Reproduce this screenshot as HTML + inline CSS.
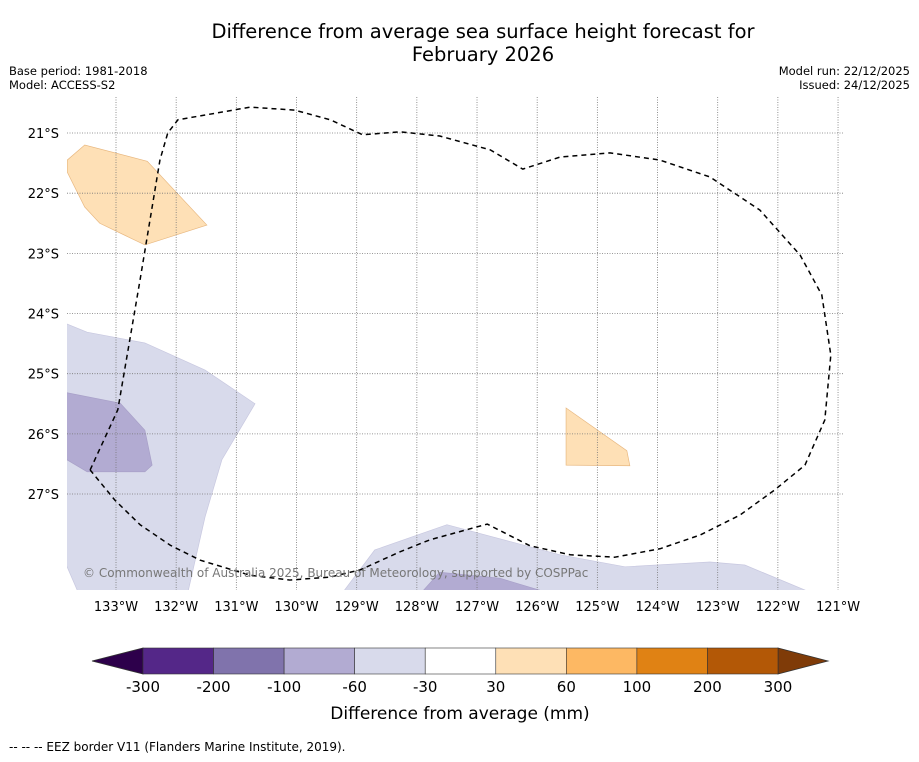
<!DOCTYPE html>
<html><head><meta charset="utf-8"><style>
body{margin:0;background:#fff;font-family:"DejaVu Sans","Liberation Sans",sans-serif}
svg text{font-family:"DejaVu Sans","Liberation Sans",sans-serif}
</style></head><body>
<svg id="c" width="919" height="758" xmlns="http://www.w3.org/2000/svg">
<rect width="919" height="758" fill="#fff"/>
<text x="483" y="38" text-anchor="middle" font-size="19.5">Difference from average sea surface height forecast for</text>
<text x="483" y="61" text-anchor="middle" font-size="19.5">February 2026</text>
<text x="9" y="75" font-size="11.5">Base period: 1981-2018</text>
<text x="9" y="89" font-size="11.5">Model: ACCESS-S2</text>
<text x="910" y="75" font-size="11.5" text-anchor="end">Model run: 22/12/2025</text>
<text x="910" y="89" font-size="11.5" text-anchor="end">Issued: 24/12/2025</text>
<defs><clipPath id="mapclip"><rect x="67" y="97" width="776" height="493"/></clipPath></defs>
<g id="fills" clip-path="url(#mapclip)"></g>
<g id="grid"></g>
<g id="eez" clip-path="url(#mapclip)"></g>
<g id="cbar"></g>
<text x="83" y="577" font-size="12" fill="#777">© Commonwealth of Australia 2025, Bureau of Meteorology, supported by COSPPac</text>
<text x="9" y="751" font-size="12">--  --  -- EEZ border V11 (Flanders Marine Institute, 2019).</text>
</svg>
<script>
const lonTicks=[133,132,131,130,129,128,127,126,125,124,123,122,121];
const latTicks=[21,22,23,24,25,26,27];
const cbBounds=[-300,-200,-100,-60,-30,30,60,100,200,300];
const cbColors=["#542788","#8073ac","#b2abd2","#d8daeb","#ffffff","#fee0b6","#fdb863","#e08214","#b35806"];
const extLow="#2d004b", extHigh="#7f3b08";
const orangeNW=[[133.81,21.45],[133.52,21.20],[132.48,21.47],[131.49,22.53],[132.52,22.86],[133.27,22.50],[133.52,22.23],[133.81,21.65]];
const purpleW=[[133.9,24.14],[133.48,24.31],[132.52,24.49],[131.52,24.94],[130.69,25.50],[131.24,26.43],[131.52,27.38],[131.82,28.7],[133.60,28.7],[133.9,28.01]];
const purpleWDark=[[133.9,25.30],[132.93,25.49],[132.52,25.94],[132.40,26.52],[132.52,26.63],[133.48,26.63],[133.9,26.38]];
const orangeE=[[125.52,25.57],[124.51,26.28],[124.46,26.53],[125.52,26.52]];
const purpleS=[[129.28,28.7],[128.70,27.93],[127.50,27.51],[125.62,28.01],[124.54,28.21],[123.13,28.13],[122.55,28.18],[121.3,28.7]];
const purpleSDark=[[127.98,28.7],[127.62,28.30],[126.62,28.40],[125.62,28.7]];
const eezLine=[[133.43,26.60],[132.97,25.60],[132.60,23.44],[132.27,21.45],[132.14,21.00],[131.97,20.78],[130.77,20.57],[130.03,20.62],[129.44,20.78],[128.90,21.03],[128.28,20.98],[127.62,21.05],[126.78,21.28],[126.24,21.60],[125.62,21.40],[124.79,21.33],[123.96,21.45],[123.13,21.73],[122.30,22.28],[121.63,23.03],[121.27,23.69],[121.12,24.69],[121.22,25.77],[121.55,26.52],[122.05,26.93],[122.63,27.35],[123.29,27.68],[123.96,27.91],[124.71,28.05],[125.45,28.01],[126.12,27.86],[126.83,27.50],[127.78,27.76],[128.28,27.96],[128.94,28.26],[129.44,28.38],[130.11,28.43],[130.77,28.35],[131.60,28.10],[132.10,27.85],[132.60,27.51],[133.02,27.10],[133.43,26.60]];
const NS="http://www.w3.org/2000/svg";
const X=lon=>116+(133-lon)*60.17;
const Y=lat=>133+(lat-21)*60.17;
function mk(t,a,p){const e=document.createElementNS(NS,t);for(const k in a)e.setAttribute(k,a[k]);p.appendChild(e);return e;}
const fills=document.getElementById('fills');
function poly(pts,fill,stroke,name){
 const p=mk('polygon',{points:pts.map(q=>X(q[0])+','+Y(q[1])).join(' '),fill:fill,stroke:stroke,'stroke-width':0.7},fills);
 
 
}
poly(purpleW,"#d8daeb","#c8c8e0","anomaly-region-west");
poly(purpleWDark,"#b2abd2","#a8a0c8","anomaly-region-west-strong");
poly(purpleS,"#d8daeb","#c8c8e0","anomaly-region-south");
poly(purpleSDark,"#b2abd2","#a8a0c8","anomaly-region-south-strong");
poly(orangeNW,"#fee0b6","#e8b880","anomaly-region-northwest");
poly(orangeE,"#fee0b6","#e8b880","anomaly-region-east");
const grid=document.getElementById('grid');
lonTicks.forEach(l=>{
 const ln=mk('line',{x1:X(l),x2:X(l),y1:97,y2:590,stroke:'#777','stroke-width':0.8,'stroke-dasharray':'1,1.5'},grid);
 
 
 const t=mk('text',{x:X(l),y:611,'text-anchor':'middle','font-size':13},grid);t.textContent=l+'°W';
 
 
});
latTicks.forEach(l=>{
 const ln=mk('line',{x1:67,x2:843,y1:Y(l),y2:Y(l),stroke:'#777','stroke-width':0.8,'stroke-dasharray':'1,1.5'},grid);
 
 
 const t=mk('text',{x:59,y:Y(l)+5,'text-anchor':'end','font-size':13},grid);t.textContent=l+'°S';
 
 
});
const eez=mk('polyline',{points:eezLine.map(q=>X(q[0])+','+Y(q[1])).join(' '),fill:'none',stroke:'#000','stroke-width':1.5,'stroke-dasharray':'5,4','stroke-linejoin':'round'},document.getElementById('eez'));


const cb=document.getElementById('cbar');
const cx0=143,cx1=778,cy=648,ch=26;
const bw=(cx1-cx0)/cbColors.length;
const lo=mk('polygon',{points:`92,${cy+ch/2} ${cx0},${cy} ${cx0},${cy+ch}`,fill:extLow,stroke:'#333','stroke-width':0.8},cb);


const hi=mk('polygon',{points:`828,${cy+ch/2} ${cx1},${cy} ${cx1},${cy+ch}`,fill:extHigh,stroke:'#333','stroke-width':0.8},cb);


cbColors.forEach((c,i)=>{
 const r=mk('rect',{x:cx0+i*bw,y:cy,width:bw,height:ch,fill:c,stroke:'#333','stroke-width':0.6},cb);
 
 
});
cbBounds.forEach((v,i)=>{
 const t=mk('text',{x:cx0+i*bw,y:692,'text-anchor':'middle','font-size':15},cb);t.textContent=v;
 
 
});
const lab=mk('text',{x:460,y:719,'text-anchor':'middle','font-size':17},cb);lab.textContent='Difference from average (mm)';


</script>
</body></html>
